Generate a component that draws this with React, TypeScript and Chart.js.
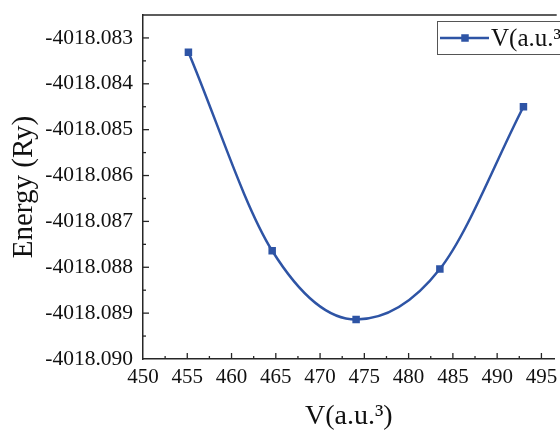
import React, { useEffect, useRef } from 'react';
import { Chart, registerables } from 'chart.js';

Chart.register(...registerables);

// ---- data ----
const volumes = [455.13, 464.59, 474.07, 483.53, 492.97];
const energies = [-4018.08331, -4018.08764, -4018.08914, -4018.08804, -4018.0845];
const seriesLabel = 'V(a.u.³)';
const xTitle = 'V(a.u.³)';
const yTitle = 'Energy (Ry)';
const xMin = 450;
const xMax = 496.5;
const xStep = 5;
const yMin = -4018.09;
const yMax = -4018.0825;
const yStep = 0.001;

const LINE_COLOR = '#2E54A5';
const AXIS_COLOR = '#262626';
const FONT = "'Liberation Serif', 'Times New Roman', serif";

const decorPlugin = {
  id: 'decor',
  afterDraw(chart: any) {
    const { ctx, chartArea: ca, scales } = chart;
    const x = scales.x;
    const y = scales.y;
    ctx.save();
    ctx.strokeStyle = AXIS_COLOR;
    ctx.lineWidth = 1.3;
    const seg = (x1: number, y1: number, x2: number, y2: number) => {
      ctx.beginPath();
      ctx.moveTo(x1, y1);
      ctx.lineTo(x2, y2);
      ctx.stroke();
    };
    // top border
    ctx.lineWidth = 1.5;
    seg(ca.left, ca.top, ca.right + 2, ca.top);
    ctx.lineWidth = 1.3;
    // x ticks (inward)
    const xt = x.ticks.map((t: any) => t.value);
    xt.forEach((v: number, i: number) => {
      const px = x.getPixelForValue(v);
      if (i > 0) seg(px, ca.bottom, px, ca.bottom - 6);
      const mv = v + xStep / 2;
      if (mv < xMax) {
        const pm = x.getPixelForValue(mv);
        seg(pm, ca.bottom, pm, ca.bottom - 3);
      }
    });
    // y ticks (inward)
    const yt = y.ticks.map((t: any) => t.value);
    yt.forEach((v: number, i: number) => {
      const py = y.getPixelForValue(v);
      if (i > 0) seg(ca.left, py, ca.left + 6, py);
      const mv = v + yStep / 2;
      if (mv < yMax - 1e-9) {
        const pm = y.getPixelForValue(mv);
        seg(ca.left, pm, ca.left + 3, pm);
      }
    });

    // legend
    const ds = chart.data.datasets[0];
    const bx = 437;
    const by = 21;
    const bh = 33;
    ctx.strokeStyle = '#555';
    ctx.lineWidth = 1;
    ctx.fillStyle = '#fff';
    ctx.fillRect(bx, by, chart.width - bx + 5, bh);
    ctx.strokeRect(bx + 0.5, by + 0.5, chart.width - bx + 5, bh);
    const ly = by + bh / 2 + 0.5;
    ctx.strokeStyle = ds.borderColor;
    ctx.lineWidth = 2.5;
    seg(bx + 3, ly, bx + 52, ly);
    ctx.fillStyle = ds.backgroundColor;
    ctx.fillRect(bx + 28 - 3.75, ly - 3.75, 7.5, 7.5);
    ctx.fillStyle = '#111';
    ctx.font = `25px ${FONT}`;
    ctx.textBaseline = 'middle';
    ctx.textAlign = 'left';
    ctx.fillText(ds.label, bx + 54, ly + 1);
    ctx.restore();
  },
};

export default function App() {
  const ref = useRef<HTMLCanvasElement | null>(null);

  useEffect(() => {
    if (!ref.current) return;
    const chart = new Chart(ref.current, {
      type: 'line',
      data: {
        datasets: [
          {
            label: seriesLabel,
            data: volumes.map((v, i) => ({ x: v, y: energies[i] })),
            borderColor: LINE_COLOR,
            backgroundColor: LINE_COLOR,
            borderWidth: 2.5,
            pointStyle: 'rect',
            pointRadius: 5.3,
            pointBorderWidth: 0,
            cubicInterpolationMode: 'monotone',
            fill: false,
          },
        ],
      },
      options: {
        animation: false,
        responsive: false,
        layout: { padding: { left: 0, right: 0, top: 15, bottom: 0 } },
        plugins: {
          legend: { display: false },
          tooltip: { enabled: false },
        },
        scales: {
          x: {
            type: 'linear',
            min: xMin,
            max: xMax,
            ticks: {
              stepSize: xStep,
              includeBounds: false,
              autoSkip: false,
              maxRotation: 0,
              padding: 6,
              color: '#111',
              font: { family: FONT, size: 21 },
              callback: (v: any) => String(Math.round(Number(v))),
            },
            grid: { display: true, drawOnChartArea: false, drawTicks: false },
            border: { display: true, color: AXIS_COLOR, width: 1.5 },
            title: {
              display: true,
              text: xTitle,
              color: '#111',
              font: { family: FONT, size: 28, lineHeight: 1 },
              padding: { top: 0, bottom: -1 },
            },
            afterFit: (s: any) => {
              s.height = 71;
              s.paddingRight = 0;
              s.paddingLeft = 0;
            },
          },
          y: {
            type: 'linear',
            min: yMin,
            max: yMax,
            ticks: {
              stepSize: yStep,
              includeBounds: false,
              autoSkip: false,
              padding: 10,
              color: '#111',
              font: { family: FONT, size: 21.5 },
              callback: (v: any) => Number(v).toFixed(3),
            },
            grid: { display: true, drawOnChartArea: false, drawTicks: false },
            border: { display: true, color: AXIS_COLOR, width: 1.5 },
            title: {
              display: true,
              text: yTitle,
              color: '#111',
              font: { family: FONT, size: 29, lineHeight: 1 },
              padding: { top: 10, bottom: 0 },
            },
            afterFit: (s: any) => {
              s.width = 143;
              s.paddingTop = 0;
              s.paddingBottom = 0;
            },
          },
        },
      },
      plugins: [decorPlugin],
    });
    return () => chart.destroy();
  }, []);

  return (
    <div style={{ position: 'fixed', left: 0, top: 0, width: 560, height: 430, background: '#fff' }}>
      <canvas ref={ref} width={560} height={430} style={{ display: 'block' }} />
    </div>
  );
}
